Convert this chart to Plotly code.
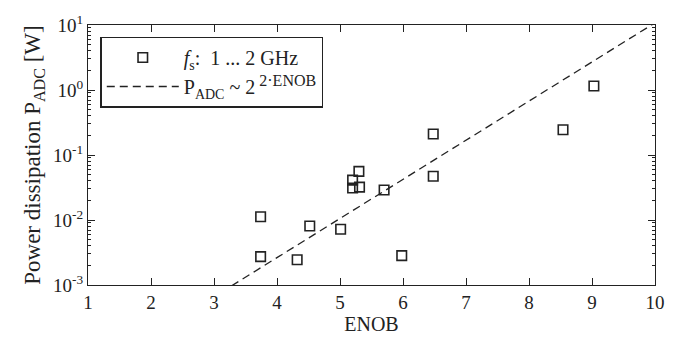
import numpy as np
import plotly.graph_objects as go

# data
enob = [3.74, 3.74, 4.32, 4.52, 5.01, 5.20, 5.20, 5.30, 5.31, 5.70, 5.98, 6.48, 6.48, 8.54, 9.03]
power = [0.0112, 0.00273, 0.00244, 0.0081, 0.0072, 0.041, 0.031, 0.056, 0.032, 0.029, 0.00283, 0.21, 0.047, 0.245, 1.15]

# trend P ~ c * 2^(2*ENOB)
trend_enob = [1.0, 10.0]
trend_c = 1.03e-5

x_ticks = [1, 2, 3, 4, 5, 6, 7, 8, 9, 10]
y_ticks = [1e-3, 1e-2, 1e-1, 1e0, 1e1]
y_tick_text = ["10<sup>-3</sup>", "10<sup>-2</sup>", "10<sup>-1</sup>", "10<sup>0</sup>", "10<sup>1</sup>"]

FONT = "Liberation Serif"
INK = "#222222"

tx = np.linspace(trend_enob[0], trend_enob[1], 200)
ty = trend_c * 2.0 ** (2 * tx)

fig = go.Figure()
fig.add_trace(go.Scatter(
    x=enob, y=power, mode="markers",
    marker=dict(symbol="square-open", size=9.5, color=INK, line=dict(width=1.6, color=INK)),
    name="<i>f</i><sub>s</sub>:\u00a0 1 ... 2 GHz",
))
fig.add_trace(go.Scatter(
    x=tx, y=ty, mode="lines",
    line=dict(color=INK, width=1.3, dash="8px,5px"),
    name="P<sub>ADC</sub> ~ 2<sup><span style='font-size:16px'>\u00a02·ENOB</span></sup>",
))

fig.update_layout(
    width=677, height=343,
    margin=dict(l=88, r=20, t=16, b=58),
    paper_bgcolor="white", plot_bgcolor="white",
    font=dict(family=FONT, size=19, color=INK),
    showlegend=True,
    legend=dict(
        x=0.022, y=0.955, xanchor="left", yanchor="top",
        bordercolor=INK, borderwidth=1.3, bgcolor="white",
        font=dict(family=FONT, size=20, color=INK),
        itemwidth=72, tracegroupgap=0,
    ),
    xaxis=dict(
        range=[1, 10], tickvals=x_ticks, ticks="inside", ticklen=7, tickwidth=1,
        tickcolor=INK, showline=True, linecolor=INK, linewidth=1.3, mirror="ticks",
        showgrid=False, zeroline=False,
        title=dict(text="ENOB", font=dict(family=FONT, size=20), standoff=3),
        tickfont=dict(family=FONT, size=19),
    ),
    yaxis=dict(
        type="log", range=[-3, 1], tickvals=y_ticks, ticktext=y_tick_text,
        ticks="inside", ticklen=7, tickwidth=1, tickcolor=INK,
        showline=True, linecolor=INK, linewidth=1.3, mirror="ticks",
        showgrid=False, zeroline=False,
        minor=dict(dtick="D1", ticks="inside", ticklen=3, tickcolor=INK, showgrid=False),
        title=dict(text="Power dissipation P<sub>ADC</sub> [W]", font=dict(family=FONT, size=23), standoff=5),
        tickfont=dict(family=FONT, size=19),
    ),
)

fig.write_html("out.html")
